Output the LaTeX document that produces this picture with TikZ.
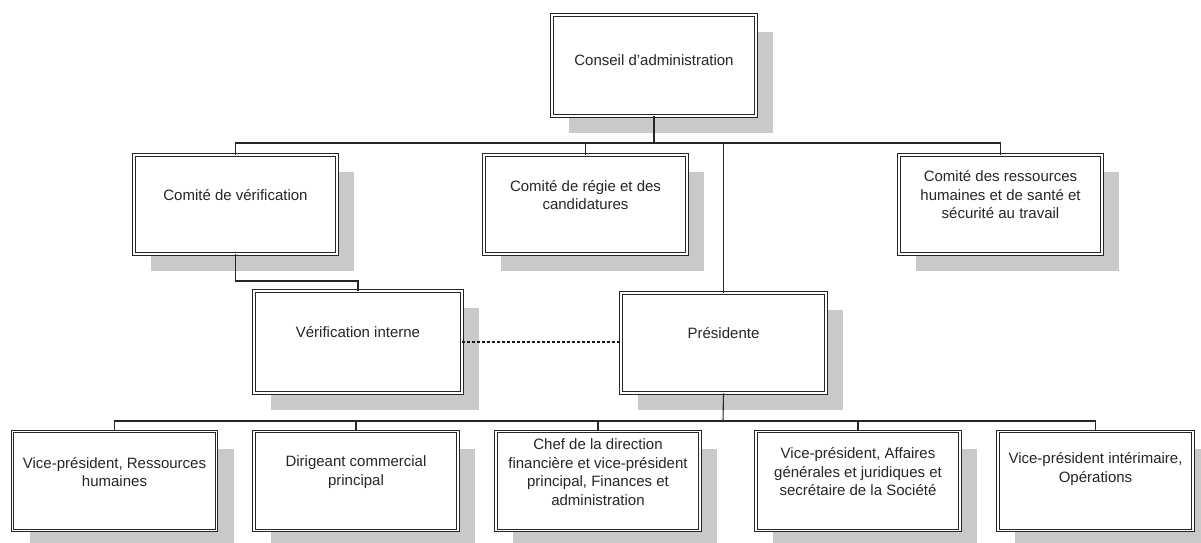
\documentclass[tikz,border=0pt]{standalone}
\usepackage{fontspec}
\setmainfont{Liberation Sans}
\usetikzlibrary{shadows}
\begin{document}
\begin{tikzpicture}[x=1pt,y=-1pt,
  orgbox/.style={draw=black!85, line width=0.9pt, double=white, double distance=1.6pt,
    fill=white, minimum height=#1, inner sep=0pt,
    drop shadow={shadow xshift=17pt, shadow yshift=-17pt, fill=black!21, opacity=1}},
  orgbox/.default=99pt,
  lbl/.style={font=\fontsize{15}{18.5}\selectfont, text=black!85, align=center, inner sep=0pt},
  link/.style={draw=black!85, line width=1.1pt},
  dotlink/.style={draw=black!90, line width=2pt, dash pattern=on 3pt off 2pt}]
\useasboundingbox (0,0) rectangle (1201,542);
% boxes
\node[orgbox=101pt, minimum width=204pt] (conseil) at (654,65.5) {};
\node[orgbox, minimum width=203pt] (verif) at (235.5,204.5) {};
\node[orgbox, minimum width=203pt] (regie) at (585.5,204.5) {};
\node[orgbox, minimum width=203pt] (rh) at (1000.5,204.5) {};
\node[orgbox=102pt, minimum width=208pt] (interne) at (358,342) {};
\node[orgbox=100pt, minimum width=205pt] (pres) at (723.5,343) {};
\node[orgbox=99pt, minimum width=204pt] (b1) at (114.5,481) {};
\node[orgbox=99pt, minimum width=204pt] (b2) at (356,481) {};
\node[orgbox=99pt, minimum width=204pt] (b3) at (598,481) {};
\node[orgbox=99pt, minimum width=204pt] (b4) at (858,481) {};
\node[orgbox=99pt, minimum width=195pt] (b5) at (1095.5,481) {};
% labels
\node[lbl] (tconseil) at ([yshift=5.5pt]conseil.center) {Conseil d'administration};
\node[lbl] (tverif) at ([yshift=9.5pt]verif.center) {Comité de vérification};
\node[lbl] (tregie) at ([yshift=9.5pt]regie.center) {Comité de régie et des\\candidatures};
\node[lbl] (trh) at ([yshift=9.5pt]rh.center) {Comité des ressources\\humaines et de santé et\\sécurité au travail};
\node[lbl] (tinterne) at ([yshift=9.5pt]interne.center) {Vérification interne};
\node[lbl] (tpres) at ([yshift=9.5pt]pres.center) {Présidente};
\node[lbl] (tb1) at ([yshift=9pt]b1.center) {Vice-président, Ressources\\humaines};
\node[lbl] (tb2) at ([yshift=9pt]b2.center) {Dirigeant commercial\\principal};
\node[lbl] (tb3) at ([yshift=9pt]b3.center) {Chef de la direction\\financière et vice-président\\principal, Finances et\\administration};
\node[lbl] (tb4) at ([yshift=9pt]b4.center) {Vice-président, Affaires\\générales et juridiques et\\secrétaire de la Société};
\node[lbl] (tb5) at ([yshift=12pt]b5.center) {Vice-président intérimaire,\\Opérations};
% connectors
\coordinate (bus1) at (654,143);
\coordinate (bus2) at (723,421);
\draw[link] (conseil.south) -- (bus1);
\draw[link] (verif.north) |- (bus1) -| (rh.north);
\draw[link] (regie.north) |- (bus1);
\draw[link] (pres.north) |- (bus1);
\draw[link] (verif.south) |- (358,281) -- (interne.north);
\draw[dotlink] (interne.east) -- (pres.west |- interne.east);
\draw[link] (pres.south) -- (bus2);
\draw[link] (b1.north) |- (bus2) -| (b5.north);
\draw[link] (b2.north) |- (bus2);
\draw[link] (b3.north) |- (bus2);
\draw[link] (b4.north) |- (bus2);
\end{tikzpicture}
\end{document}
